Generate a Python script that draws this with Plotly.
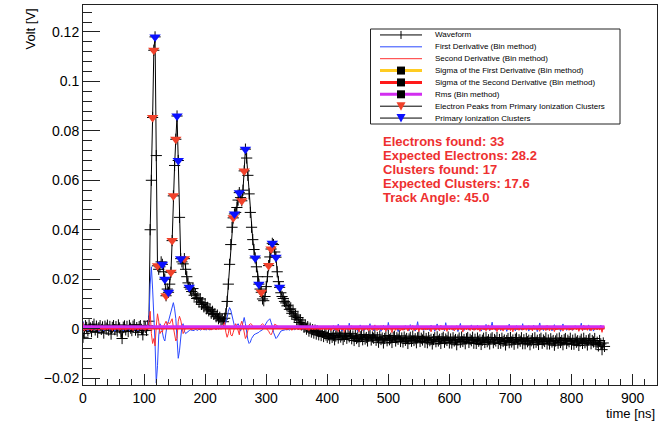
import plotly.graph_objects as go

# ---------------- data (waveform and derivatives in units of 0.1 mV, 2 ns bins) -------------
wave_baseline = [-35, -20, 12, 5, -8, 15, 3, -12, 8, 18, -5, 10, -15, 4, 12, -3, 7, -18, 10, 2,
                 14, -6, 9, -22, 5, 12, -4, 8, -10, 15, 3, -14, -40, 6, 11, -5, 9, -12, 13, 2,
                 -8, 10, 16, -6, 4, -15, 8, 12, -3, -25, 10, 5, -7, 12]                       # t = 0..106
wave_peaks_a = [30, 400, 600, 854, 1126, 1180, 700, 254, 240, 250, 270, 260, 230, 200, 133, 160, 147,
                180, 228, 356, 537, 660, 766, 860, 680, 450, 283, 270, 262, 283, 240, 210, 185, 167, 160]  # t = 108..176
wave_decay_a = [150, 162, 135, 140, 122, 125, 108, 120, 98, 105, 88, 100, 80, 86, 72, 78, 62, 70, 58, 60,
                48, 55, 40, 46, 32, 38, 28, 42, 60, 110]                                      # t = 178..236
wave_peaks_b = [180, 260, 340, 410, 448, 464, 470, 490, 520, 550, 530, 517, 560, 638, 726, 690, 620, 545,
                470, 410, 360, 320, 286, 250, 210, 180, 160, 147, 120, 113, 130, 170, 210, 255, 290, 322,
                345, 340, 310, 289, 230, 190, 167, 145, 130, 122, 110]                        # t = 238..330
wave_decay_b = [104, 92, 95, 78, 80, 62, 70, 50, 55, 38, 45, 25, 35, 15, 22, 5, 14, -2, 8, -10,
                2, -14, -4, -18, -6, -22, -10, -25, -12, -28, -15, -32, -20, -26, -35]         # t = 332..400
wave_tail = [
    -25, -40, -20, -35, -28, -45, -30, -22, -38, -18, -34, -27, -44, -31, -21, -39, -26, -33, -19, -41,
    -30, -48, -26, -40, -35, -52, -33, -29, -45, -24, -42, -36, -50, -31, -27, -46, -34, -39, -25, -47,
    -36, -55, -30, -44, -38, -58, -40, -33, -49, -28, -45, -39, -56, -35, -31, -50, -37, -43, -29, -52,
    -38, -54, -34, -47, -40, -60, -42, -35, -51, -30, -48, -41, -57, -37, -33, -52, -39, -46, -31, -55,
    -40, -57, -36, -49, -43, -62, -44, -37, -53, -33, -50, -43, -60, -40, -35, -55, -42, -48, -34, -58,
    -42, -58, -37, -50, -44, -65, -46, -38, -55, -34, -52, -44, -61, -41, -36, -56, -43, -49, -35, -59,
    -43, -60, -38, -51, -45, -64, -47, -39, -56, -35, -53, -45, -62, -42, -37, -57, -44, -50, -36, -60,
    -44, -59, -39, -52, -46, -66, -48, -40, -57, -36, -54, -46, -63, -43, -38, -58, -45, -51, -37, -61,
    -45, -61, -40, -53, -47, -65, -49, -41, -58, -37, -55, -47, -64, -44, -39, -59, -46, -52, -38, -62,
    -46, -62, -41, -54, -48, -67, -50, -42, -59, -38, -56, -48, -65, -45, -40, -60, -47, -53, -39, -63,
    -47, -63, -42, -55, -49, -68, -51, -43, -60, -39, -57, -49, -66, -46, -41, -61, -48, -54, -40, -64,
    -55, -70, -48, -62, -85, -58, -72]                                                       # t = 402..854

d1_baseline = [30, 12, -5, 8, -10, 4, 6, -8, 3, 10, -6, 2, 9, -12, 5, -3, 7, -9, 4, 11,
               -5, 3, -7, 8, -4, 6, -11, 2, 9, -6, 5, -2, 7, -10, 3, 8, -5, 4, -8, 6,
               -3, 10, -7, 2, 5, -9, 4, 7, -4, 3, -6, 8, 5, 15]
d1_peaks_a = [40, 180, 250, 160, 70, -60, -220, -150, -30, 20, 10, -20, -40, -50, -10, 20, 30, 50, 70, 90,
              105, 80, 40, -40, -120, -90, -30, 10, 20, -10, -20, -15, -10, -8, -5]
d1_decay_a = [-6, -4, -8, -3, -5, -7, -2, -6, -4, 3, -5, -3, -6, 2, -4, -5, -2, -3, 4, -2,
              -4, 2, -3, 5, 3, 8, 5, 10, 25, 45]
d1_peaks_b = [70, 85, 75, 50, 25, 10, 8, 15, 20, 10, -10, 5, 30, 45, 20, -20, -45, -60, -55, -40,
              -30, -25, -22, -20, -18, -15, -10, -8, -5, 5, 15, 25, 30, 35, 40, 25, 10, -15, -30, -40,
              -35, -25, -15, -10, -8, -6, -5]
d1_decay_b = [-4, -5, -3, -6, -2, -4, 3, -5, -3, 2, -4, -2, 4, -3, -5, 2, -2, 3, -4, 6,
              -3, 2, -5, 4, -2, 12, -3, 3, -6, 2, -4, 5, -3, 2, -2]
d1_tail = [
    3, -6, 8, -2, 12, -8, 4, -3, 18, -5, 6, -10, 2, 9, -4, 5, -7, 22, -3, 7,
    -5, 10, -2, 6, -12, 3, 15, -4, 7, -8, 2, 11, -6, 4, 20, -3, 8, -9, 5, -2,
    6, -4, 9, -11, 2, 14, -5, 3, -7, 25, -2, 8, -6, 4, 10, -3, 6, -12, 3, 7,
    -3, 8, -6, 12, -2, 5, -9, 16, -4, 3, 7, -10, 2, 28, -5, 6, -3, 9, -7, 4,
    8, -5, 3, -8, 14, -2, 6, -11, 4, 19, -6, 2, 9, -4, 5, -9, 24, -3, 7, -5,
    2, 11, -7, 4, -3, 9, -12, 6, 21, -4, 3, -8, 10, -2, 6, -6, 4, 15, -5, 8,
    -6, 3, 13, -4, 7, -10, 2, 8, -5, 17, -3, 6, -9, 4, 26, -2, 5, -7, 9, -4,
    5, -8, 4, 10, -3, 6, -11, 3, 18, -6, 8, -4, 2, -9, 12, -5, 7, 3, -6, 20,
    -4, 7, -2, 9, -10, 5, 3, -7, 14, -3, 6, -12, 8, 23, -5, 4, -8, 2, 11, -6,
    9, -3, 5, -9, 2, 16, -6, 4, -4, 8, -11, 3, 19, -2, 6, -7, 5, 10, -5, 3,
    -7, 4, 12, -3, 8, -6, 2, 22, -9, 5, -4, 7, -2, 15, -8, 3, 6, -10, 4, 9,
    -5, 8, -3, 14, -6, 4, 2]

d2_baseline = [25, -10, 5, -6, 8, -4, 3, -9, 6, -2, 7, -5, 4, -8, 2, 6, -3, 9, -6, 3,
               -4, 7, -2, 5, -9, 4, -5, 8, -3, 6, -7, 2, 5, -4, 9, -6, 3, -2, 7, -5,
               4, -8, 6, -3, 2, -6, 8, -4, 5, -2, 3, -7, 4, 10]
d2_peaks_a = [30, 70, -20, -60, -40, -70, 10, 60, 30, -20, -10, -15, 10, 20, 30, 15, 25, 20, 30, 40,
              5, -30, -50, -40, 30, 50, 35, 10, -20, -10, 5, 8, 3, 5, -3]
d2_decay_a = [-5, 4, -3, 6, -2, 3, -4, 8, -3, 2, -5, 6, -2, 4, -3, 5, -6, 3, -2, 5,
              -4, 3, -2, 4, -3, 6, 10, 25, -15, -35]
d2_peaks_b = [-20, 10, -25, -30, -15, 5, 20, 10, -10, -25, 15, 30, 10, -20, -40, -30, -10, 15, 20, 18,
              10, 5, 8, 5, 6, 4, 10, 15, 20, 15, 10, 5, -5, -10, -20, -25, -15, 5, 18, 15,
              10, 8, 6, 4, 3, -2, 4]
d2_decay_b = [3, -5, 6, -2, 4, -7, 2, 5, -3, 8, -4, 2, -6, 3, 5, -2, 7, -5, 3, -8,
              4, 2, -3, 6, -4, 9, -2, 3, -6, 5, -3, 2, 7, -4, 3]
d2_tail = [
    -4, 6, -9, 3, -2, 10, -7, 2, -12, 5, 8, -5, 3, -15, 4, -3, 7, -8, 2, 12,
    6, -3, 9, -6, 2, -14, 5, 3, -8, 11, -4, 7, -2, -10, 6, 4, -7, 2, 15, -5,
    -8, 4, -3, 12, -6, 2, 7, -11, 3, -4, 9, -2, -16, 5, 3, -7, 10, -3, 4, -9,
    3, -7, 11, -2, 5, -10, 2, 6, -4, 13, -8, 3, -5, 8, -12, 4, 2, -6, 9, -3,
    -5, 9, -3, 6, -13, 4, -2, 10, -7, 3, 5, -9, 14, -4, 2, -6, 8, -11, 3, 6,
    7, -4, 2, -9, 5, 12, -6, 3, -3, 8, -14, 4, 6, -5, 10, -2, -8, 3, 5, -7,
    -3, 10, -6, 4, -11, 2, 8, -4, 5, -9, 3, 15, -7, 2, -5, 9, -3, 6, -12, 4,
    5, -6, 3, -10, 7, -2, 11, -5, 4, -8, 2, -13, 6, 3, -4, 10, -7, 2, 8, -6,
    -2, 8, -7, 3, 12, -5, 4, -9, 6, -3, 10, -6, 2, -11, 5, 7, -4, 3, -8, 13,
    4, -9, 6, -3, 2, -12, 9, -5, 3, 7, -6, 4, -10, 2, 11, -4, 6, -7, 3, -5,
    -6, 3, 9, -4, 6, -11, 2, 5, -8, 14, -3, 4, -7, 10, -2, -9, 5, 3, -5, 8,
    -4, 10, -6, 3, -15, 5, 2]

seg_starts = [0, 108, 178, 238, 332, 402]   # ns

# horizontal levels (V) over the acquisition window (ns)
window_t = [0, 854]
sigma_d1_level = [0.0005, 0.0005]
sigma_d2_level = [0.0003, 0.0003]
rms_level = [0.0008, 0.0008]

# peaks found (time ns, volt)
elec_t = [114, 116, 122, 136, 144, 146, 148, 152, 166, 246, 260, 264, 292, 304, 308]
elec_v = [0.0854, 0.1126, 0.0254, 0.0133, 0.0228, 0.0356, 0.0537, 0.0766, 0.0283,
          0.0448, 0.0517, 0.0638, 0.0147, 0.0255, 0.0322]
clus_t = [118, 130, 134, 140, 154, 156, 160, 174, 248, 256, 266, 282, 288, 310, 316, 322]
clus_v = [0.118, 0.026, 0.020, 0.0147, 0.086, 0.068, 0.0283, 0.0167, 0.0464, 0.055,
          0.0726, 0.0286, 0.018, 0.0345, 0.0289, 0.0167]

info_lines = ["Electrons found: 33", "Expected Electrons: 28.2", "Clusters found: 17",
              "Expected Clusters: 17.6", "Track Angle: 45.0"]


def build(segs):
    t, v = [], []
    for start, vals in zip(seg_starts, segs):
        assert not t or start == t[-1] + 2, (start, t[-1])
        for i, val in enumerate(vals):
            t.append(start + 2 * i)
            v.append(val * 1e-4)
    return t, v


wt, wv = build([wave_baseline, wave_peaks_a, wave_decay_a, wave_peaks_b, wave_decay_b, wave_tail])
d1t, d1v = build([d1_baseline, d1_peaks_a, d1_decay_a, d1_peaks_b, d1_decay_b, d1_tail])
d2t, d2v = build([d2_baseline, d2_peaks_a, d2_decay_a, d2_peaks_b, d2_decay_b, d2_tail])

C_BLUE_LINE = "#2a48ff"
C_RED_LINE = "#ff3030"
C_ORANGE = "#ffcc22"
C_RED_THICK = "#ff1a1a"
C_MAGENTA = "#d22ef0"
C_TRI_RED = "#f0412a"
C_TRI_BLUE = "#0a10ff"
FONT = "Liberation Sans, Arial, Helvetica, sans-serif"

fig = go.Figure()
fig.add_trace(go.Scatter(x=wt, y=wv, mode="lines+markers", line=dict(color="black", width=1),
                         marker=dict(symbol="cross-thin", size=8, line=dict(color="black", width=1))))
fig.add_trace(go.Scatter(x=d1t, y=d1v, mode="lines", line=dict(color=C_BLUE_LINE, width=1)))
fig.add_trace(go.Scatter(x=d2t, y=d2v, mode="lines", line=dict(color=C_RED_LINE, width=1)))
fig.add_trace(go.Scatter(x=window_t, y=sigma_d1_level, mode="lines", line=dict(color=C_ORANGE, width=3)))
fig.add_trace(go.Scatter(x=window_t, y=sigma_d2_level, mode="lines", line=dict(color=C_RED_THICK, width=3)))
fig.add_trace(go.Scatter(x=window_t, y=rms_level, mode="lines", line=dict(color=C_MAGENTA, width=3)))
fig.add_trace(go.Scatter(x=elec_t, y=elec_v, mode="markers",
                         marker=dict(symbol="triangle-down", size=10, color=C_TRI_RED)))
fig.add_trace(go.Scatter(x=clus_t, y=clus_v, mode="markers",
                         marker=dict(symbol="triangle-down", size=10, color=C_TRI_BLUE)))

# ---------------- frame geometry in pixels ----------------
W, H = 662, 421
PL, PR, PT, PB = 83, 657, 5, 385


def px(x):
    return (x - PL) / (PR - PL)


def py(y):
    return (PB - y) / (PB - PT)


shapes = []
annotations = []

# legend box
LX0, LX1, LY0, LY1 = 370.5, 620, 29, 124
shapes.append(dict(type="rect", xref="paper", yref="paper", x0=px(LX0), x1=px(LX1), y0=py(LY1), y1=py(LY0),
                   line=dict(color="#222222", width=1), fillcolor="white", layer="above"))
legend_items = [
    ("Waveform", "black", 1, "cross"),
    ("First Derivative (Bin method)", C_BLUE_LINE, 1, None),
    ("Second Derivative (Bin method)", C_RED_LINE, 1, None),
    ("Sigma of the First Derivative (Bin method)", C_ORANGE, 3, "square"),
    ("Sigma of the Second Derivative (Bin method)", C_RED_THICK, 3, "square"),
    ("Rms (Bin method)", C_MAGENTA, 3, "square"),
    ("Electron Peaks from Primary Ionization Clusters", "black", 1, ("tri", C_TRI_RED)),
    ("Primary Ionization Clusters", "black", 1, ("tri", C_TRI_BLUE)),
]
row_h = (LY1 - LY0) / len(legend_items)
for i, (label, col, lw, mk) in enumerate(legend_items):
    yc = LY0 + row_h * (i + 0.5)
    shapes.append(dict(type="line", xref="paper", yref="paper", x0=px(380), x1=px(422), y0=py(yc), y1=py(yc),
                       line=dict(color=col, width=lw), layer="above"))
    if mk == "cross":
        shapes.append(dict(type="line", xref="paper", yref="paper", x0=px(401), x1=px(401),
                           y0=py(yc - 4), y1=py(yc + 4), line=dict(color="black", width=1), layer="above"))
    elif mk == "square":
        shapes.append(dict(type="rect", xref="paper", yref="paper", x0=px(397), x1=px(405),
                           y0=py(yc + 4), y1=py(yc - 4), line=dict(width=0), fillcolor="black", layer="above"))
    elif isinstance(mk, tuple):
        path = "M %f %f L %f %f L %f %f Z" % (px(396.5), py(yc - 4), px(405.5), py(yc - 4), px(401), py(yc + 4.5))
        shapes.append(dict(type="path", xref="paper", yref="paper", path=path, line=dict(width=0),
                           fillcolor=mk[1], layer="above"))
    annotations.append(dict(text=label, xref="paper", yref="paper", x=px(433), y=py(yc), xanchor="left",
                            yanchor="middle", showarrow=False, font=dict(family=FONT, size=8, color="black")))

# info text
for i, line in enumerate(info_lines):
    annotations.append(dict(text="<b>%s</b>" % line, xref="paper", yref="paper", x=px(381), y=py(141 + 14 * i),
                            xanchor="left", yanchor="middle", showarrow=False,
                            font=dict(family=FONT, size=13, color="#ee3030")))

# axis titles
annotations.append(dict(text="Volt [V]", xref="paper", yref="paper", x=px(30), y=py(7), xanchor="center",
                        yanchor="top", textangle=-90, showarrow=False, font=dict(family=FONT, size=13, color="black")))
annotations.append(dict(text="time [ns]", xref="paper", yref="paper", x=px(657), y=py(413), xanchor="right",
                        yanchor="middle", showarrow=False, font=dict(family=FONT, size=13, color="black")))

axis_common = dict(showline=True, linecolor="#222222", linewidth=1, mirror=True, showgrid=False, zeroline=False,
                   ticks="inside", tickcolor="#222222", tickwidth=1,
                   tickfont=dict(family=FONT, size=14, color="black"))
fig.update_layout(
    width=W, height=H, margin=dict(l=PL, r=W - PR, t=PT, b=H - PB),
    paper_bgcolor="white", plot_bgcolor="white", showlegend=False,
    xaxis=dict(range=[0, 940], dtick=100, tick0=0, ticklen=11,
               minor=dict(ticks="inside", ticklen=6, dtick=20, tickcolor="#222222"), **axis_common),
    yaxis=dict(range=[-0.0228, 0.1309], dtick=0.02, tick0=0, ticklen=17,
               minor=dict(ticks="inside", ticklen=9, dtick=0.004, tickcolor="#222222"), **axis_common),
    shapes=shapes, annotations=annotations,
)
fig.write_html("out.html")
